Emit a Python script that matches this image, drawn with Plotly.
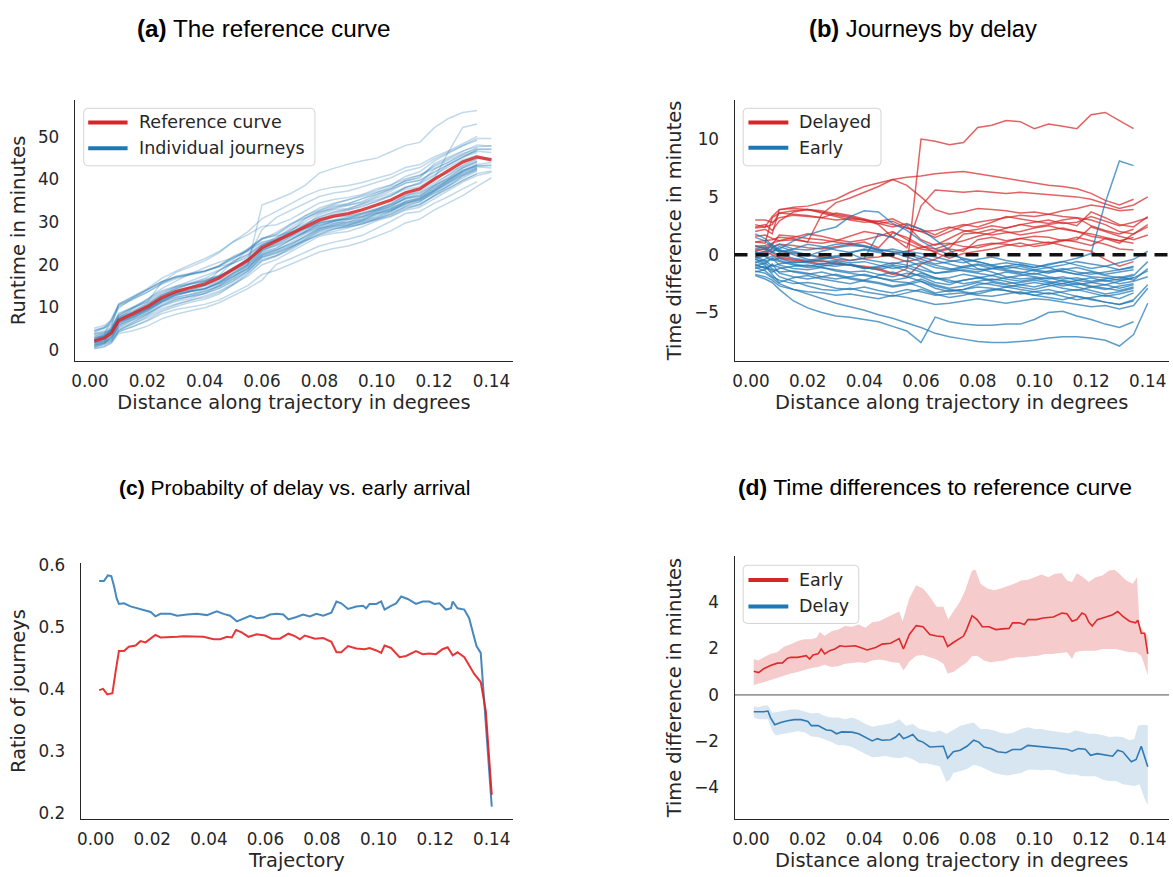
import plotly.graph_objects as go

W, H = 1173, 877

# ---------------------------------------------------------------- data
# common sampling positions (degrees along the trajectory) for journeys
X_GRID = [0.0015, 0.005, 0.0075, 0.01, 0.015, 0.02, 0.025, 0.03, 0.035, 0.04,
          0.045, 0.05, 0.055, 0.06, 0.065, 0.07, 0.075, 0.08, 0.085, 0.09,
          0.095, 0.10, 0.105, 0.11, 0.115, 0.12, 0.125, 0.13, 0.135, 0.14]

# reference runtime curve (minutes)
REFERENCE_CURVE = [2.1, 2.8, 4.0, 6.9, 8.5, 10.2, 12.3, 13.7, 14.6, 15.5,
                   16.9, 18.9, 21.0, 24.0, 25.5, 27.2, 28.9, 30.5, 31.4, 32.0,
                   32.9, 34.1, 35.2, 36.9, 37.8, 40.0, 42.0, 44.1, 45.3, 44.6]

# time difference to the reference curve, delayed journeys (minutes)
DELAYED_01 = [0.3, 0.5, 0.2, -0.2, -0.4, -0.6, -0.8, -0.7, -0.9, -1.1, -1.3, -1.7, -1.2, 10.0, 9.8, 9.5, 9.7, 11.0, 11.2, 11.6, 11.5, 10.9, 11.3, 11.1, 10.9, 12.1, 12.3, 11.6, 10.9, None]
DELAYED_02 = [0.7, 0.8, 1.0, 1.2, 1.3, 1.1, 3.5, 4.5, 4.9, 5.4, 5.9, 6.5, 6.7, 6.8, 7.0, 7.1, 7.2, 7.0, 6.8, 6.6, 6.4, 6.2, 6.0, 5.9, 5.7, 5.3, 4.7, 4.3, 4.8, None]
DELAYED_03 = [2.3, 2.4, 3.3, 3.9, 4.1, 4.2, 4.5, 4.8, 5.4, 5.9, 6.2, 6.5, 6.0, 5.0, 3.9, 3.5, 3.7, 4.0, 3.9, 3.8, 3.6, 3.7, 3.5, 3.3, 3.2, 3.0, 2.6, 2.0, 1.8, 2.4]
DELAYED_04 = [1.1, 1.0, 3.2, 3.6, 3.8, 3.9, 3.7, 3.4, 3.2, 3.0, 2.6, 1.5, 0.6, 4.2, 5.6, 5.5, 5.4, 5.5, 5.4, 5.3, 5.4, 5.3, 5.2, 5.1, 5.0, 4.8, 4.4, 4.0, 4.3, 5.0]
DELAYED_05 = [3.0, 3.0, 2.8, 3.2, 3.4, 3.3, 3.2, 3.0, 3.1, 3.0, 2.9, 2.6, 2.3, 2.0, 1.5, 2.0, 2.5, 2.8, 3.0, 3.2, 3.4, 3.3, 3.5, 3.8, 4.0, 4.3, 4.1, 3.8, 3.9, None]
DELAYED_06 = [2.0, 2.2, 1.8, 3.9, 4.0, 3.9, 3.6, 3.3, 3.0, 2.8, 2.9, 3.1, 2.5, 1.3, 0.8, 1.4, 2.0, 2.2, 2.5, 2.3, 2.6, 2.8, 3.0, 2.7, 2.8, 3.3, 2.9, 2.5, 2.8, 3.2]
DELAYED_07 = [1.1, 1.2, 1.3, 1.5, 1.4, 1.1, 1.0, 1.2, 1.6, 2.0, 1.8, 1.5, 1.0, 0.5, 0.3, 0.6, 1.8, 1.9, 2.2, 2.0, 1.7, 1.9, 2.1, 2.3, 2.0, 1.8, 1.5, 1.2, 1.0, None]
DELAYED_08 = [0.7, 0.6, 0.9, 1.7, 1.6, 1.4, 1.3, 1.1, 0.9, 0.7, 0.4, -0.2, -0.6, -0.3, 0.2, 0.5, 0.3, 1.3, 1.5, 1.2, 1.4, 1.6, 1.5, 1.2, 1.3, 2.4, 2.0, 1.6, 1.3, 1.7]
DELAYED_09 = [0.1, 0.3, 0.0, -0.3, -0.5, -0.6, -0.5, -0.8, -0.9, -1.0, -1.2, -1.6, -1.9, -0.8, -0.4, 0.2, 0.5, 0.8, 1.0, 0.9, 0.7, 0.9, 1.1, 0.8, 0.5, 0.3, -0.4, -1.0, -0.6, None]
DELAYED_10 = [2.6, 2.4, 2.6, 3.6, 3.5, 3.4, 3.2, 3.6, 3.4, 3.1, 2.7, 2.9, 2.3, 2.0, 2.1, 2.4, 2.1, 1.9, 1.7, 1.9, 2.0, 2.3, 2.5, 2.2, 2.0, 1.6, 1.4, 1.2, 1.5, None]
DELAYED_11 = [-0.2, 0.2, 0.5, 0.3, 0.1, 0.0, -0.2, -0.4, -0.5, -0.3, -0.2, 0.1, 0.3, 0.6, 0.9, 1.0, 0.7, 0.6, 0.9, 1.1, 1.4, 1.2, 1.0, 1.3, 1.1, 0.8, 1.4, 1.0, 1.8, 2.6]
DELAYED_12 = [2.4, 2.6, 2.1, 2.9, 3.7, 3.9, 3.8, 3.5, 3.3, 3.0, 2.7, 2.4, 2.7, 2.2, 1.7, 2.3, 2.6, 2.4, 2.8, 3.3, 3.1, 2.9, 2.7, 3.0, 3.2, 2.5, 2.1, 1.8, 2.2, None]
DELAYED_13 = [1.6, 1.7, 1.4, 1.2, 1.5, 1.8, 1.6, 1.3, 1.1, 1.3, 1.6, 2.0, 1.3, 0.7, 0.5, 0.9, 1.2, 1.6, 1.9, 2.3, 2.6, 2.4, 2.6, 2.8, 2.5, 3.7, 3.2, 2.6, 2.4, 3.3]
DELAYED_14 = [0.4, 0.5, 0.7, 0.9, 0.8, 0.6, 0.5, 0.7, 0.9, 1.1, 0.6, 1.9, 1.5, 0.8, 0.2, -0.3, 0.1, 0.3, 0.5, 0.8, 1.0, 0.7, 0.9, 1.2, 1.5, 1.2, 0.9, 0.5, 0.4, None]

# time difference to the reference curve, early journeys (minutes)
EARLY_01 = [-1.8, -2.1, -2.4, -3.0, -4.0, -4.6, -5.0, -5.3, -5.4, -5.6, -5.8, -6.2, -6.6, -7.6, -5.4, -5.8, -6.0, -6.1, -6.1, -6.0, -6.0, -5.6, -5.0, -4.9, -5.3, -5.6, -6.0, -6.3, -5.8, None]
EARLY_02 = [-1.4, -1.6, -2.0, -2.5, -3.0, -3.4, -3.8, -4.2, -4.5, -4.8, -5.2, -5.5, -5.9, -6.3, -6.8, -7.1, -7.3, -7.5, -7.6, -7.6, -7.5, -7.4, -7.2, -7.1, -7.1, -7.2, -7.4, -7.9, -6.9, -4.2]
EARLY_03 = [-0.4, -0.8, -0.3, -0.6, -0.9, -1.1, -1.0, -0.8, -0.9, -1.2, -1.0, -0.7, -0.9, -1.3, -1.6, -1.5, -1.3, -1.5, -1.2, -1.0, -0.8, -1.1, -0.9, -0.6, -0.3, 0.1, 4.5, 8.1, 7.7, None]
EARLY_04 = [1.5, 1.2, 0.6, 0.5, 1.2, 1.7, 2.1, 2.4, 3.3, 3.8, 3.7, 2.7, 2.1, 1.2, 0.5, 0.0, -0.3, -0.6, -0.9, -1.2, -1.0, -1.3, -1.5, -1.4, -1.7, -1.9, -2.0, -2.2, -2.0, None]
EARLY_05 = [0.3, -0.2, -0.5, -0.3, -0.7, -0.6, -0.4, -0.2, -0.5, -0.3, 1.8, 1.5, 2.6, 2.2, 1.3, 0.4, -0.5, -1.2, -1.5, -1.9, -2.1, -2.0, -2.3, -2.5, -2.2, -2.4, -2.6, -2.3, -2.0, -1.4]
EARLY_06 = [-0.6, -0.9, -1.5, -1.2, -1.0, -0.9, -1.1, -1.4, -1.6, -1.8, -2.0, -2.3, -2.4, -2.8, -3.3, -3.1, -3.0, -2.8, -2.9, -3.1, -3.4, -3.2, -3.0, -3.3, -3.6, -3.9, -4.1, -4.3, -3.9, -2.6]
EARLY_07 = [-0.2, -0.5, -1.0, -0.8, -0.6, -0.7, -0.9, -1.0, -0.8, -1.1, -1.3, -1.0, -1.4, -1.9, -2.4, -2.6, -2.2, -2.0, -2.3, -2.5, -2.4, -2.2, -2.4, -2.7, -2.5, -2.8, -3.0, -2.7, -2.5, None]
EARLY_08 = [-1.1, -1.4, -1.9, -2.2, -2.5, -2.4, -2.6, -2.9, -3.0, -2.8, -3.1, -3.3, -3.0, -3.2, -3.5, -3.4, -3.3, -3.5, -3.6, -3.4, -3.2, -3.5, -3.7, -3.9, -3.6, -3.8, -4.1, -4.3, -4.0, None]
EARLY_09 = [0.8, 0.5, 0.2, 0.7, 0.3, 0.0, -0.3, -0.2, 0.1, -0.4, -0.6, -0.8, -0.5, -1.0, -1.6, -1.4, -1.1, -0.9, -1.2, -1.4, -1.6, -1.3, -1.1, -1.5, -1.7, -1.5, -1.8, -2.0, -1.7, None]
EARLY_10 = [-1.5, -1.3, -0.8, -1.6, -1.9, -2.1, -1.9, -1.7, -2.0, -2.2, -1.8, -1.5, -1.9, -2.3, -2.9, -3.2, -3.0, -2.6, -2.4, -2.6, -2.8, -3.0, -2.7, -2.5, -2.8, -3.1, -3.4, -3.2, -2.9, None]
EARLY_11 = [0.2, 0.0, 0.6, 0.9, 0.5, 0.4, 0.6, 0.9, 1.0, 0.8, 0.5, 0.2, -0.2, -0.6, -0.9, -1.2, -1.4, -1.6, -1.8, -1.5, -1.7, -1.9, -2.1, -1.9, -2.2, -2.0, -2.3, -2.1, -1.8, -0.6]
EARLY_12 = [-0.9, -1.1, -1.3, -1.9, -2.3, -2.7, -3.0, -3.1, -2.9, -3.2, -3.4, -3.6, -3.3, -3.0, -3.4, -3.7, -3.5, -3.2, -3.0, -3.1, -3.3, -3.5, -3.3, -3.6, -3.9, -3.7, -3.5, -3.8, -3.3, None]
EARLY_13 = [-0.4, -0.6, -0.3, -0.9, -1.2, -1.3, -1.1, -1.3, -1.5, -1.4, -1.7, -1.9, -1.6, -1.8, -2.1, -2.0, -1.7, -1.9, -2.2, -2.0, -1.8, -1.6, -1.9, -2.1, -2.0, -2.3, -2.1, -1.9, -2.2, -1.2]
EARLY_14 = [0.5, 0.7, 0.3, 0.4, 0.2, -0.1, 0.3, 0.6, 0.8, 0.7, 0.4, 0.3, 0.1, -0.4, -0.8, -0.6, -0.4, -0.6, -0.9, -0.7, -0.9, -1.1, -0.8, -0.6, -0.9, -1.2, -1.0, -0.7, -0.4, 0.3]
EARLY_15 = [-1.2, -1.0, -1.7, -2.4, -2.0, -1.8, -2.1, -2.3, -2.5, -2.2, -2.4, -2.7, -2.5, -2.1, -2.6, -2.9, -2.7, -2.4, -2.6, -2.8, -2.6, -2.4, -2.6, -2.9, -3.1, -2.8, -2.6, -2.9, -2.6, None]
EARLY_16 = [-0.7, -0.4, -0.1, -0.5, -0.8, -1.0, -0.8, -0.6, -0.9, -1.2, -1.1, -0.9, -1.1, -1.5, -2.0, -2.2, -2.5, -2.3, -2.1, -2.3, -2.6, -2.8, -2.5, -2.2, -2.4, -2.7, -2.9, -3.1, -2.8, None]
EARLY_17 = [0.0, 0.3, 0.9, 0.4, 0.0, -0.4, -0.6, -0.5, -0.7, -0.6, -0.9, -1.2, -1.0, -0.7, -1.1, -1.3, -1.0, -0.8, -1.0, -1.3, -1.5, -1.7, -1.4, -1.2, -1.5, -1.7, -1.5, -1.3, -1.1, None]
EARLY_18 = [-1.7, -1.9, -2.2, -2.7, -3.0, -3.2, -3.3, -3.5, -3.4, -3.6, -3.8, -3.5, -3.7, -4.0, -4.3, -4.2, -4.0, -3.8, -4.0, -4.2, -4.0, -3.8, -3.9, -4.1, -4.3, -4.5, -4.4, -4.7, -4.4, -2.9]
EARLY_19 = [-0.3, -0.1, 0.2, 0.0, -0.3, -0.5, -0.3, -0.1, 0.2, 0.4, 0.2, 0.0, 0.3, 0.1, -0.2, -0.5, -0.7, -0.4, -0.2, -0.5, -0.7, -0.9, -1.1, -0.9, -0.6, -0.8, -1.0, -1.3, -1.0, None]
EARLY_20 = [-1.0, -0.7, -1.2, -1.5, -1.4, -1.6, -1.9, -2.1, -1.9, -1.7, -2.0, -2.2, -2.0, -1.6, -2.0, -2.4, -2.2, -2.0, -1.8, -2.1, -2.3, -2.1, -2.0, -2.3, -2.6, -2.4, -2.2, -2.5, -2.3, -1.9]
EARLY_21 = [1.8, 1.4, 0.8, 0.2, 0.5, 0.9, 0.7, 0.4, 0.2, 0.5, 0.3, 0.5, 0.2, -0.2, -0.5, -0.8, -1.1, -1.3, -1.2, -1.0, -1.2, -1.4, -1.6, -1.3, -1.1, -1.4, -1.7, -1.5, -1.3, None]
EARLY_22 = [-0.8, -1.2, -0.9, -1.1, -1.5, -1.7, -1.5, -1.8, -2.1, -2.3, -2.5, -2.8, -2.6, -2.3, -2.7, -3.0, -3.2, -3.4, -3.1, -2.8, -3.0, -3.2, -3.4, -3.2, -3.0, -3.3, -3.6, -3.4, -3.1, None]

DELAYED = [DELAYED_01, DELAYED_02, DELAYED_03, DELAYED_04, DELAYED_05, DELAYED_06, DELAYED_07,
           DELAYED_08, DELAYED_09, DELAYED_10, DELAYED_11, DELAYED_12, DELAYED_13, DELAYED_14]
EARLY = [EARLY_01, EARLY_02, EARLY_03, EARLY_04, EARLY_05, EARLY_06, EARLY_07, EARLY_08,
         EARLY_09, EARLY_10, EARLY_11, EARLY_12, EARLY_13, EARLY_14, EARLY_15, EARLY_16,
         EARLY_17, EARLY_18, EARLY_19, EARLY_20, EARLY_21, EARLY_22]

# ratio of early / delayed journeys along the trajectory
RATIO_EARLY_X = [0.0012, 0.0029, 0.0043, 0.0055, 0.0065, 0.0074, 0.0082, 0.0100, 0.0123, 0.0147,
                 0.0170, 0.0194, 0.0211, 0.0229, 0.0264, 0.0288, 0.0323, 0.0358, 0.0393, 0.0428,
                 0.0452, 0.0475, 0.0499, 0.0522, 0.0546, 0.0569, 0.0593, 0.0616, 0.0640, 0.0663,
                 0.0681, 0.0710, 0.0733, 0.0757, 0.0780, 0.0804, 0.0833, 0.0851, 0.0868, 0.0892,
                 0.0921, 0.0945, 0.0956, 0.0968, 0.0992, 0.1009, 0.1021, 0.1044, 0.1062, 0.1080,
                 0.1103, 0.1132, 0.1156, 0.1179, 0.1197, 0.1215, 0.1238, 0.1256, 0.1262, 0.1279,
                 0.1303, 0.1320, 0.1334, 0.1346, 0.1361, 0.1379, 0.1400]
RATIO_EARLY = [0.575, 0.575, 0.584, 0.583, 0.566, 0.547, 0.538, 0.539, 0.534, 0.531,
               0.528, 0.525, 0.518, 0.522, 0.522, 0.519, 0.521, 0.522, 0.520, 0.526,
               0.522, 0.519, 0.510, 0.514, 0.519, 0.515, 0.516, 0.521, 0.522, 0.521,
               0.513, 0.517, 0.521, 0.518, 0.522, 0.519, 0.524, 0.542, 0.539, 0.530,
               0.534, 0.535, 0.531, 0.538, 0.538, 0.542, 0.529, 0.535, 0.539, 0.550,
               0.546, 0.538, 0.542, 0.542, 0.538, 0.539, 0.529, 0.531, 0.542, 0.531,
               0.529, 0.515, 0.492, 0.470, 0.459, 0.338, 0.211]
RATIO_DELAY_X = [0.0012, 0.0026, 0.0041, 0.0059, 0.0070, 0.0082, 0.0100, 0.0117, 0.0141, 0.0158,
                 0.0176, 0.0194, 0.0211, 0.0229, 0.0264, 0.0288, 0.0311, 0.0346, 0.0381, 0.0417,
                 0.0440, 0.0464, 0.0481, 0.0496, 0.0516, 0.0540, 0.0569, 0.0599, 0.0622, 0.0651,
                 0.0681, 0.0704, 0.0722, 0.0739, 0.0757, 0.0775, 0.0804, 0.0833, 0.0851, 0.0868,
                 0.0892, 0.0921, 0.0951, 0.0968, 0.0992, 0.1009, 0.1021, 0.1044, 0.1074, 0.1097,
                 0.1132, 0.1156, 0.1179, 0.1203, 0.1226, 0.1244, 0.1262, 0.1279, 0.1303, 0.1320,
                 0.1338, 0.1361, 0.1379, 0.1400]
RATIO_DELAY = [0.399, 0.401, 0.392, 0.394, 0.428, 0.462, 0.462, 0.469, 0.471, 0.478,
               0.476, 0.482, 0.488, 0.484, 0.484, 0.485, 0.486, 0.485, 0.485, 0.481,
               0.481, 0.485, 0.484, 0.496, 0.492, 0.485, 0.489, 0.487, 0.482, 0.482,
               0.490, 0.486, 0.481, 0.487, 0.485, 0.482, 0.483, 0.477, 0.460, 0.460,
               0.470, 0.466, 0.465, 0.467, 0.463, 0.459, 0.471, 0.467, 0.452, 0.454,
               0.462, 0.457, 0.458, 0.457, 0.465, 0.468, 0.455, 0.460, 0.452, 0.439,
               0.425, 0.412, 0.365, 0.230]

# mean time difference with spread band, positive side
POS_MEAN_X = [0.0010, 0.0027, 0.0045, 0.0069, 0.0093, 0.0111, 0.0129, 0.0141, 0.0165, 0.0195,
              0.0207, 0.0219, 0.0237, 0.0248, 0.0260, 0.0278, 0.0296, 0.0314, 0.0332, 0.0368,
              0.0386, 0.0410, 0.0440, 0.0463, 0.0493, 0.0523, 0.0538, 0.0559, 0.0583, 0.0607,
              0.0631, 0.0655, 0.0679, 0.0694, 0.0714, 0.0732, 0.0750, 0.0762, 0.0780, 0.0798,
              0.0816, 0.0840, 0.0864, 0.0888, 0.0911, 0.0923, 0.0947, 0.0965, 0.0977, 0.1007,
              0.1031, 0.1067, 0.1097, 0.1115, 0.1133, 0.1150, 0.1168, 0.1180, 0.1192, 0.1204,
              0.1222, 0.1252, 0.1276, 0.1294, 0.1312, 0.1336, 0.1357, 0.1365, 0.1377, 0.1389,
              0.1400]
POS_MEAN = [1.02, 0.96, 1.13, 1.27, 1.37, 1.38, 1.58, 1.62, 1.62, 1.69,
            1.55, 1.72, 1.77, 1.98, 1.77, 1.91, 1.98, 2.12, 2.09, 2.12,
            2.05, 1.94, 2.05, 2.19, 2.23, 2.43, 1.98, 2.61, 2.99, 2.94,
            2.61, 2.54, 2.51, 2.09, 2.26, 2.40, 2.54, 2.85, 3.42, 3.25,
            2.94, 2.94, 2.82, 2.85, 2.87, 3.11, 3.11, 3.04, 3.25, 3.25,
            3.32, 3.36, 3.53, 3.50, 3.18, 3.25, 3.53, 3.46, 3.14, 2.97,
            3.25, 3.36, 3.46, 3.60, 3.39, 3.18, 3.11, 3.22, 2.66, 2.66,
            1.77]
POS_UPPER_X = [0.0010, 0.0027, 0.0045, 0.0069, 0.0093, 0.0117, 0.0141, 0.0165, 0.0189, 0.0213,
               0.0231, 0.0243, 0.0260, 0.0284, 0.0308, 0.0332, 0.0356, 0.0380, 0.0404, 0.0428,
               0.0452, 0.0475, 0.0499, 0.0523, 0.0535, 0.0559, 0.0583, 0.0607, 0.0631, 0.0655,
               0.0679, 0.0696, 0.0714, 0.0738, 0.0756, 0.0780, 0.0792, 0.0810, 0.0834, 0.0858,
               0.0882, 0.0906, 0.0929, 0.0953, 0.0977, 0.1001, 0.1025, 0.1049, 0.1073, 0.1097,
               0.1115, 0.1133, 0.1150, 0.1174, 0.1192, 0.1216, 0.1240, 0.1264, 0.1282, 0.1300,
               0.1324, 0.1347, 0.1362, 0.1371, 0.1387, 0.1400]
POS_UPPER = [1.55, 1.48, 1.62, 1.77, 1.84, 2.09, 2.19, 2.33, 2.40, 2.40,
             2.47, 2.71, 2.54, 2.75, 2.82, 2.97, 2.94, 3.04, 2.90, 3.14,
             3.18, 3.32, 3.46, 3.60, 3.18, 4.17, 4.73, 4.59, 4.24, 3.81,
             3.81, 3.25, 3.60, 4.03, 4.52, 5.37, 5.40, 4.80, 4.59, 4.52,
             4.59, 4.69, 4.80, 4.94, 4.97, 5.08, 5.20, 5.08, 5.23, 5.25,
             4.94, 4.87, 5.25, 5.06, 4.87, 5.08, 5.16, 5.37, 5.40, 5.23,
             4.94, 4.80, 5.08, 3.04, 2.68, 2.54]
POS_LOWER_X = [0.0010, 0.0027, 0.0045, 0.0069, 0.0093, 0.0117, 0.0141, 0.0165, 0.0189, 0.0213,
               0.0237, 0.0260, 0.0284, 0.0308, 0.0332, 0.0356, 0.0380, 0.0404, 0.0428, 0.0452,
               0.0475, 0.0499, 0.0523, 0.0538, 0.0547, 0.0559, 0.0583, 0.0607, 0.0631, 0.0655,
               0.0679, 0.0694, 0.0714, 0.0738, 0.0762, 0.0780, 0.0798, 0.0822, 0.0846, 0.0870,
               0.0894, 0.0917, 0.0941, 0.0965, 0.0989, 0.1013, 0.1037, 0.1061, 0.1085, 0.1115,
               0.1133, 0.1144, 0.1168, 0.1192, 0.1216, 0.1240, 0.1264, 0.1288, 0.1312, 0.1336,
               0.1359, 0.1377, 0.1389, 0.1400]
POS_LOWER = [0.42, 0.49, 0.54, 0.64, 0.73, 0.82, 0.92, 0.99, 1.06, 1.16,
             1.20, 1.30, 1.20, 1.24, 1.34, 1.38, 1.41, 1.38, 1.48, 1.53,
             1.48, 1.41, 1.38, 1.06, 1.20, 1.44, 1.69, 1.72, 1.62, 1.53,
             1.34, 0.92, 0.99, 1.20, 1.41, 1.67, 1.69, 1.48, 1.41, 1.44,
             1.48, 1.58, 1.62, 1.62, 1.67, 1.69, 1.77, 1.77, 1.79, 1.84,
             1.55, 1.84, 1.91, 1.91, 1.91, 1.98, 1.98, 1.98, 1.91, 1.84,
             1.84, 1.69, 1.27, 0.85]

# mean time difference with spread band, negative side
NEG_MEAN_X = [0.0010, 0.0027, 0.0045, 0.0060, 0.0069, 0.0084, 0.0105, 0.0129, 0.0153, 0.0177,
              0.0201, 0.0213, 0.0237, 0.0248, 0.0266, 0.0284, 0.0302, 0.0320, 0.0356, 0.0380,
              0.0404, 0.0428, 0.0446, 0.0463, 0.0493, 0.0511, 0.0523, 0.0538, 0.0553, 0.0571,
              0.0589, 0.0607, 0.0631, 0.0655, 0.0679, 0.0694, 0.0714, 0.0738, 0.0762, 0.0786,
              0.0804, 0.0822, 0.0846, 0.0870, 0.0900, 0.0923, 0.0953, 0.0977, 0.1013, 0.1049,
              0.1085, 0.1115, 0.1133, 0.1156, 0.1180, 0.1198, 0.1222, 0.1252, 0.1276, 0.1294,
              0.1312, 0.1342, 0.1359, 0.1377, 0.1400]
NEG_MEAN = [-0.73, -0.74, -0.73, -0.70, -0.98, -1.29, -1.19, -1.12, -1.07, -1.07,
            -1.15, -1.33, -1.33, -1.40, -1.52, -1.54, -1.68, -1.60, -1.61, -1.68,
            -1.82, -1.99, -1.89, -1.96, -1.94, -1.82, -1.68, -1.89, -1.82, -1.71,
            -1.96, -2.04, -2.25, -2.22, -2.22, -2.74, -2.46, -2.39, -2.22, -1.96,
            -2.04, -2.25, -2.32, -2.46, -2.50, -2.36, -2.36, -2.18, -2.22, -2.25,
            -2.32, -2.35, -2.43, -2.32, -2.35, -2.61, -2.54, -2.61, -2.65, -2.39,
            -2.46, -2.89, -2.79, -2.22, -3.10]
NEG_UPPER_X = [0.0010, 0.0027, 0.0045, 0.0060, 0.0075, 0.0093, 0.0117, 0.0141, 0.0165, 0.0189,
               0.0213, 0.0237, 0.0260, 0.0284, 0.0308, 0.0332, 0.0356, 0.0380, 0.0404, 0.0428,
               0.0452, 0.0475, 0.0499, 0.0523, 0.0547, 0.0571, 0.0595, 0.0619, 0.0643, 0.0667,
               0.0690, 0.0714, 0.0738, 0.0762, 0.0786, 0.0810, 0.0834, 0.0858, 0.0882, 0.0906,
               0.0929, 0.0953, 0.0977, 0.1001, 0.1025, 0.1049, 0.1073, 0.1097, 0.1121, 0.1144,
               0.1168, 0.1192, 0.1216, 0.1240, 0.1264, 0.1288, 0.1312, 0.1336, 0.1353, 0.1365,
               0.1377, 0.1400]
NEG_UPPER = [-0.49, -0.53, -0.46, -0.46, -0.77, -0.73, -0.67, -0.63, -0.63, -0.70,
             -0.80, -0.77, -0.91, -0.98, -0.98, -1.05, -0.98, -1.09, -1.26, -1.38,
             -1.33, -1.26, -1.22, -1.05, -1.33, -1.26, -1.47, -1.54, -1.61, -1.54,
             -1.68, -1.52, -1.33, -1.26, -1.19, -1.47, -1.47, -1.54, -1.64, -1.68,
             -1.61, -1.47, -1.40, -1.47, -1.47, -1.54, -1.59, -1.61, -1.66, -1.54,
             -1.59, -1.68, -1.68, -1.73, -1.82, -1.80, -1.82, -1.96, -1.89, -1.33,
             -1.30, -1.30]
NEG_LOWER_X = [0.0010, 0.0027, 0.0045, 0.0060, 0.0075, 0.0087, 0.0117, 0.0141, 0.0165, 0.0189,
               0.0213, 0.0237, 0.0260, 0.0284, 0.0308, 0.0332, 0.0356, 0.0380, 0.0404, 0.0428,
               0.0452, 0.0475, 0.0499, 0.0523, 0.0547, 0.0571, 0.0595, 0.0619, 0.0643, 0.0667,
               0.0690, 0.0702, 0.0714, 0.0738, 0.0762, 0.0786, 0.0810, 0.0834, 0.0858, 0.0882,
               0.0906, 0.0929, 0.0953, 0.0977, 0.1001, 0.1025, 0.1049, 0.1073, 0.1097, 0.1121,
               0.1144, 0.1168, 0.1192, 0.1216, 0.1240, 0.1264, 0.1288, 0.1312, 0.1336, 0.1353,
               0.1371, 0.1389, 0.1400]
NEG_LOWER = [-0.98, -1.05, -1.05, -1.05, -1.54, -1.75, -1.68, -1.61, -1.57, -1.61,
             -1.80, -1.82, -1.92, -2.04, -2.18, -2.18, -2.25, -2.39, -2.55, -2.69,
             -2.67, -2.64, -2.71, -2.74, -2.67, -2.78, -2.95, -2.95, -3.02, -3.09,
             -3.76, -3.65, -3.37, -3.30, -3.20, -3.02, -3.09, -3.23, -3.37, -3.44,
             -3.48, -3.41, -3.37, -3.23, -3.23, -3.26, -3.23, -3.27, -3.37, -3.44,
             -3.44, -3.51, -3.51, -3.51, -3.65, -3.72, -3.72, -3.86, -3.90, -3.94,
             -3.86, -4.49, -4.77]

X_TICKS = [0.0, 0.02, 0.04, 0.06, 0.08, 0.10, 0.12, 0.14]

# ---------------------------------------------------------------- style
RED = "#d62728"
BLUE = "#1f77b4"
INK = "#262626"
TICK_FONT = dict(family="DejaVu Sans", size=16.8, color=INK)
LABEL_FONT = dict(family="DejaVu Sans", size=19.4, color=INK)
LEGEND_FONT = dict(family="DejaVu Sans", size=17.5, color=INK)


def px_x(x0, x1):
    return [x0 / W, x1 / W]


def px_y(top, bottom):
    return [(H - bottom) / H, (H - top) / H]


def fmt(v, digits):
    s = f"{abs(v):.{digits}f}"
    return ("\u2212" + s) if v < 0 else s


fig = go.Figure()

# (a) individual journeys and reference curve
for diff in DELAYED + EARLY:
    runtime = [r + d if d is not None else None for r, d in zip(REFERENCE_CURVE, diff)]
    fig.add_trace(go.Scatter(x=X_GRID, y=runtime, mode="lines", xaxis="x", yaxis="y",
                             line=dict(color="rgba(31,119,180,0.28)", width=1.5),
                             showlegend=False, hoverinfo="skip"))
fig.add_trace(go.Scatter(x=X_GRID, y=REFERENCE_CURVE, mode="lines", xaxis="x", yaxis="y",
                         name="Reference curve",
                         line=dict(color="rgba(214,39,40,0.85)", width=3.2),
                         showlegend=False))

# (b) journeys split by delay sign
for diff in DELAYED:
    fig.add_trace(go.Scatter(x=X_GRID, y=diff, mode="lines", xaxis="x2", yaxis="y2",
                             line=dict(color="rgba(214,39,40,0.72)", width=1.5),
                             showlegend=False, hoverinfo="skip"))
for diff in EARLY:
    fig.add_trace(go.Scatter(x=X_GRID, y=diff, mode="lines", xaxis="x2", yaxis="y2",
                             line=dict(color="rgba(31,119,180,0.72)", width=1.5),
                             showlegend=False, hoverinfo="skip"))

# (c) ratio of journeys
fig.add_trace(go.Scatter(x=RATIO_EARLY_X, y=RATIO_EARLY, mode="lines", xaxis="x3", yaxis="y3",
                         line=dict(color="rgba(55,126,184,0.92)", width=2), showlegend=False))
fig.add_trace(go.Scatter(x=RATIO_DELAY_X, y=RATIO_DELAY, mode="lines", xaxis="x3", yaxis="y3",
                         line=dict(color="rgba(228,26,28,0.88)", width=2), showlegend=False))

# (d) mean differences with bands
fig.add_trace(go.Scatter(x=POS_UPPER_X + POS_LOWER_X[::-1], y=POS_UPPER + POS_LOWER[::-1],
                         mode="lines", fill="toself", fillcolor="rgba(214,39,40,0.24)",
                         line=dict(width=0), xaxis="x4", yaxis="y4", showlegend=False,
                         hoverinfo="skip"))
fig.add_trace(go.Scatter(x=NEG_UPPER_X + NEG_LOWER_X[::-1], y=NEG_UPPER + NEG_LOWER[::-1],
                         mode="lines", fill="toself", fillcolor="rgba(31,119,180,0.18)",
                         line=dict(width=0), xaxis="x4", yaxis="y4", showlegend=False,
                         hoverinfo="skip"))
fig.add_trace(go.Scatter(x=POS_MEAN_X, y=POS_MEAN, mode="lines", xaxis="x4", yaxis="y4",
                         line=dict(color="#e0292b", width=1.6), showlegend=False))
fig.add_trace(go.Scatter(x=NEG_MEAN_X, y=NEG_MEAN, mode="lines", xaxis="x4", yaxis="y4",
                         line=dict(color="#2f7ab5", width=1.6), showlegend=False))


def x_axis(domain, anchor, rng, title):
    return dict(domain=domain, anchor=anchor, range=rng, showline=True, linecolor=INK,
                linewidth=1.25, ticks="", showgrid=False, zeroline=False,
                tickvals=X_TICKS, ticktext=[f"{v:.2f}" for v in X_TICKS],
                tickfont=TICK_FONT, ticklabelstandoff=5,
                title=dict(text=title, font=LABEL_FONT, standoff=3))


def y_axis(domain, anchor, rng, ticks, digits, title):
    return dict(domain=domain, anchor=anchor, range=rng, showline=True, linecolor=INK,
                linewidth=1.25, ticks="", showgrid=False, zeroline=False,
                tickvals=ticks, ticktext=[fmt(v, digits) for v in ticks],
                tickfont=TICK_FONT, ticklabelstandoff=11,
                title=dict(text=title, font=LABEL_FONT, standoff=7))


XLAB = "Distance along trajectory in degrees"
fig.update_layout(
    width=W, height=H, margin=dict(l=0, r=0, t=0, b=0),
    paper_bgcolor="white", plot_bgcolor="white", showlegend=False,
    xaxis=x_axis(px_x(71, 511), "y", [-0.0053, 0.1476], XLAB),
    yaxis=y_axis(px_y(93, 358), "x", [-2.6, 58.7], [0, 10, 20, 30, 40, 50], 0,
                 "Runtime in minutes"),
    xaxis2=x_axis(px_x(733, 1169), "y2", [-0.0058, 0.1475], XLAB),
    yaxis2=y_axis(px_y(93, 358), "x2", [-9.2, 13.4], [-5, 0, 5, 10], 0,
                  "Time difference in minutes"),
    xaxis3=x_axis(px_x(77, 511), "y3", [-0.0053, 0.1476], "Trajectory"),
    yaxis3=y_axis(px_y(563, 822), "x3", [0.1914, 0.6036], [0.2, 0.3, 0.4, 0.5, 0.6], 1,
                  "Ratio of journeys"),
    xaxis4=x_axis(px_x(733, 1169), "y4", [-0.0058, 0.1475], XLAB),
    yaxis4=y_axis(px_y(556, 822), "x4", [-5.35, 5.98], [-4, -2, 0, 2, 4], 0,
                  "Time difference in minutes"),
)

shapes = []
annotations = []

# reference lines
shapes.append(dict(type="line", xref="x2 domain", yref="y2", x0=0, x1=1, y0=0, y1=0,
                   line=dict(color="#111111", width=3.5, dash="13px,8px"), layer="above"))
shapes.append(dict(type="line", xref="x4 domain", yref="y4", x0=0, x1=1, y0=0, y1=0,
                   line=dict(color="#9a9a9a", width=1.6), layer="below"))


def legend(box, rows, line_x, text_x):
    """Framed legend drawn in page pixels: box=(x0, y0, x1, y1), rows=[(color, label, y)]."""
    x0, y0, x1, y1 = box
    r = 4
    fx = lambda v: v / W
    fy = lambda v: (H - v) / H
    path = (f"M{fx(x0 + r)},{fy(y0)} L{fx(x1 - r)},{fy(y0)} Q{fx(x1)},{fy(y0)} {fx(x1)},{fy(y0 + r)} "
            f"L{fx(x1)},{fy(y1 - r)} Q{fx(x1)},{fy(y1)} {fx(x1 - r)},{fy(y1)} "
            f"L{fx(x0 + r)},{fy(y1)} Q{fx(x0)},{fy(y1)} {fx(x0)},{fy(y1 - r)} "
            f"L{fx(x0)},{fy(y0 + r)} Q{fx(x0)},{fy(y0)} {fx(x0 + r)},{fy(y0)} Z")
    shapes.append(dict(type="path", xref="paper", yref="paper", path=path,
                       fillcolor="rgba(255,255,255,0.85)",
                       line=dict(color="#d4d4d4", width=1), layer="above"))
    for color, label, y in rows:
        shapes.append(dict(type="line", xref="paper", yref="paper",
                           x0=fx(line_x[0]), x1=fx(line_x[1]), y0=fy(y), y1=fy(y),
                           line=dict(color=color, width=4), layer="above"))
        annotations.append(dict(xref="paper", yref="paper", x=fx(text_x), y=fy(y),
                                xanchor="left", yanchor="middle", showarrow=False,
                                text=label, font=LEGEND_FONT))


legend((80, 101.7, 312, 160), [(RED, "Reference curve", 116), (BLUE, "Individual journeys", 142.3)],
       (84.5, 124), 133)
legend((741.7, 101.7, 880, 160), [(RED, "Delayed", 116), (BLUE, "Early", 141.7)],
       (747, 787), 796)
legend((741.7, 565, 857.7, 624), [(RED, "Early", 580), (BLUE, "Delay", 606.7)],
       (747, 787), 796)

# panel captions
for x, y, size, text in [(260, 21, 24.3, "<b>(a)</b> The reference curve"),
                         (922, 21, 23.7, "<b>(b)</b> Journeys by delay"),
                         (291, 486, 21.0, "<b>(c)</b> Probabilty of delay vs. early arrival"),
                         (934, 486, 22.9, "<b>(d)</b> Time differences to reference curve")]:
    annotations.append(dict(xref="paper", yref="paper", x=x / W, y=(H - y) / H,
                            xanchor="center", yanchor="middle", showarrow=False,
                            text=text, font=dict(family="Liberation Sans", size=size,
                                                 color="black")))

fig.update_layout(shapes=shapes, annotations=annotations)
fig.write_html("out.html")
